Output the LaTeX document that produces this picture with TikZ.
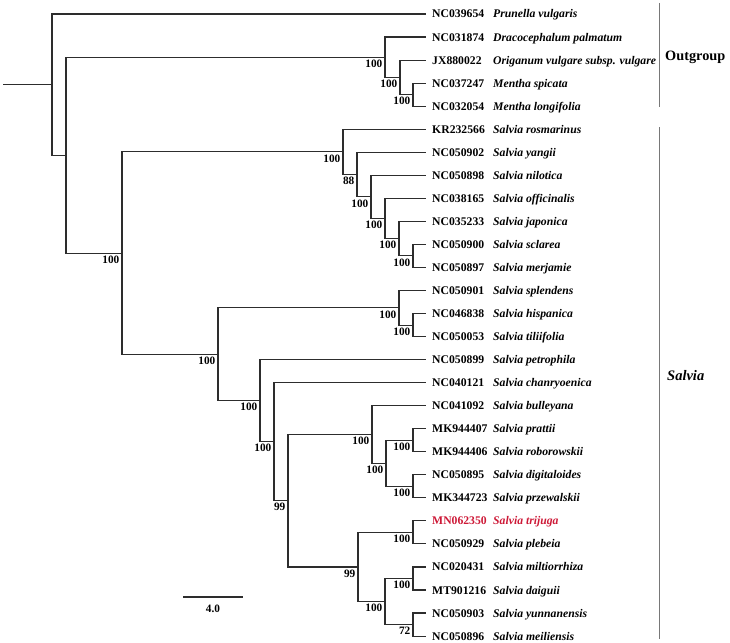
\documentclass[tikz,border=0pt]{standalone}
\usepackage{fontspec}
\setmainfont{Liberation Serif}
\definecolor{treeline}{RGB}{45,45,45}
\definecolor{barline}{RGB}{120,120,120}
\definecolor{hired}{RGB}{205,25,55}
\begin{document}
\begin{tikzpicture}[x=1pt,y=-1pt,
  branch/.style={draw=treeline,line width=1.1pt},
  grpbar/.style={draw=barline,line width=0.9pt},
  acc/.style={anchor=base west,inner sep=0pt,font=\fontsize{11.7}{14}\selectfont\bfseries},
  sp/.style={anchor=base west,inner sep=0pt,font=\fontsize{11.7}{14}\selectfont\bfseries\itshape},
  bs/.style={anchor=north east,inner sep=0pt,font=\fontsize{11.3}{13}\selectfont\bfseries},
  grp/.style={anchor=west,inner sep=0pt,font=\fontsize{14.3}{17}\selectfont\bfseries}]
\useasboundingbox (0,0) rectangle (730,642);
% leaves
\foreach \i/\acc/\spn in {0/NC039654/Prunella vulgaris,1/NC031874/Dracocephalum palmatum,2/JX880022/Origanum vulgare subsp. vulgare,3/NC037247/Mentha spicata,4/NC032054/Mentha longifolia,5/KR232566/Salvia rosmarinus,6/NC050902/Salvia yangii,7/NC050898/Salvia nilotica,8/NC038165/Salvia officinalis,9/NC035233/Salvia japonica,10/NC050900/Salvia sclarea,11/NC050897/Salvia merjamie,12/NC050901/Salvia splendens,13/NC046838/Salvia hispanica,14/NC050053/Salvia tiliifolia,15/NC050899/Salvia petrophila,16/NC040121/Salvia chanryoenica,17/NC041092/Salvia bulleyana,18/MK944407/Salvia prattii,19/MK944406/Salvia roborowskii,20/NC050895/Salvia digitaloides,21/MK344723/Salvia przewalskii,23/NC050929/Salvia plebeia,24/NC020431/Salvia miltiorrhiza,25/MT901216/Salvia daiguii,26/NC050903/Salvia yunnanensis,27/NC050896/Salvia meiliensis}{
  \coordinate (L\i) at (425,{14+23.04*\i});
  \node[acc] (A\i) at (432,{18+23.04*\i}) {\acc};
  \node[sp] (P\i) at (493,{18+23.04*\i}) {\spn};
}
\coordinate (L22) at (425,{14+23.04*22});
\node[acc,text=hired] (A22) at (432,{18+23.04*22}) {MN062350};
\node[sp,text=hired] (P22) at (493,{18+23.04*22}) {Salvia trijuga};
% internal nodes
\coordinate (O3) at (413,94.65);
\coordinate (O2) at (400,77.4);
\coordinate (O1) at (385,57.2);
\coordinate (S1e) at (413,255.9);
\coordinate (S1d) at (399,238.65);
\coordinate (S1c) at (385,218.5);
\coordinate (S1b) at (371,196.9);
\coordinate (S1a) at (357,174.55);
\coordinate (S1) at (343,151.9);
\coordinate (S2c) at (413,325.05);
\coordinate (S2a) at (399,307.8);
\coordinate (S2i) at (413,440.25);
\coordinate (S2j) at (413,486.3);
\coordinate (S2h) at (386,463.3);
\coordinate (S2f) at (372,434.5);
\coordinate (S2k) at (413,532.4);
\coordinate (S2m) at (413,578.5);
\coordinate (S2n) at (413,624.55);
\coordinate (S2l) at (385,601.5);
\coordinate (S2g) at (358,567);
\coordinate (S2e) at (288,500.75);
\coordinate (S2d) at (274,441.7);
\coordinate (S2b) at (260,400.65);
\coordinate (S2) at (218,354.2);
\coordinate (S) at (122,253.05);
\coordinate (R2) at (66,155.1);
\coordinate (R) at (52,84.55);
\coordinate (R0) at (3,84.55);
% branches
\draw[branch] (R0) -- (R);
\foreach \p/\c in {R/L0,R/R2,R2/O1,R2/S,O1/L1,O1/O2,O2/L2,O2/O3,O3/L3,O3/L4,
  S/S1,S/S2,S1/L5,S1/S1a,S1a/L6,S1a/S1b,S1b/L7,S1b/S1c,S1c/L8,S1c/S1d,S1d/L9,S1d/S1e,S1e/L10,S1e/L11,
  S2/S2a,S2/S2b,S2a/L12,S2a/S2c,S2c/L13,S2c/L14,S2b/L15,S2b/S2d,S2d/L16,S2d/S2e,
  S2e/S2f,S2e/S2g,S2f/L17,S2f/S2h,S2h/S2i,S2h/S2j,S2i/L18,S2i/L19,S2j/L20,S2j/L21,
  S2g/S2k,S2g/S2l,S2k/L22,S2k/L23,S2l/S2m,S2l/S2n,S2m/L24,S2m/L25,S2n/L26,S2n/L27}{
  \draw[branch,line cap=rect] (\p) |- (\c);
}
% bootstrap values
\foreach \n/\v in {O1/100,O2/100,O3/100,S/100,S1/100,S1a/88,S1b/100,S1c/100,S1d/100,S1e/100,
  S2/100,S2a/100,S2c/100,S2b/100,S2d/100,S2e/99,S2f/100,S2h/100,S2i/100,S2j/100,
  S2g/99,S2k/100,S2l/100,S2m/100,S2n/72}{
  \node[bs] (b\n) at ([xshift=-2.5pt,yshift=-2.5pt]\n) {\v};
}
% scale bar
\coordinate (sb1) at (183,597);
\coordinate (sb2) at (243,597);
\draw[branch] (sb1) -- (sb2);
\node[anchor=north,inner sep=0pt,font=\fontsize{11.3}{13}\selectfont\bfseries] (sbl) at (213,605) {4.0};
% group bars
\coordinate (g1a) at (659,3);
\coordinate (g1b) at (659,107);
\coordinate (g2a) at (659,127);
\coordinate (g2b) at (659,639);
\draw[grpbar] (g1a) -- (g1b);
\draw[grpbar] (g2a) -- (g2b);
\node[grp] (gout) at (665,57) {Outgroup};
\node[grp,font=\fontsize{14.5}{17}\selectfont\bfseries\itshape] (gsal) at (667,376) {Salvia};
\end{tikzpicture}
\end{document}
